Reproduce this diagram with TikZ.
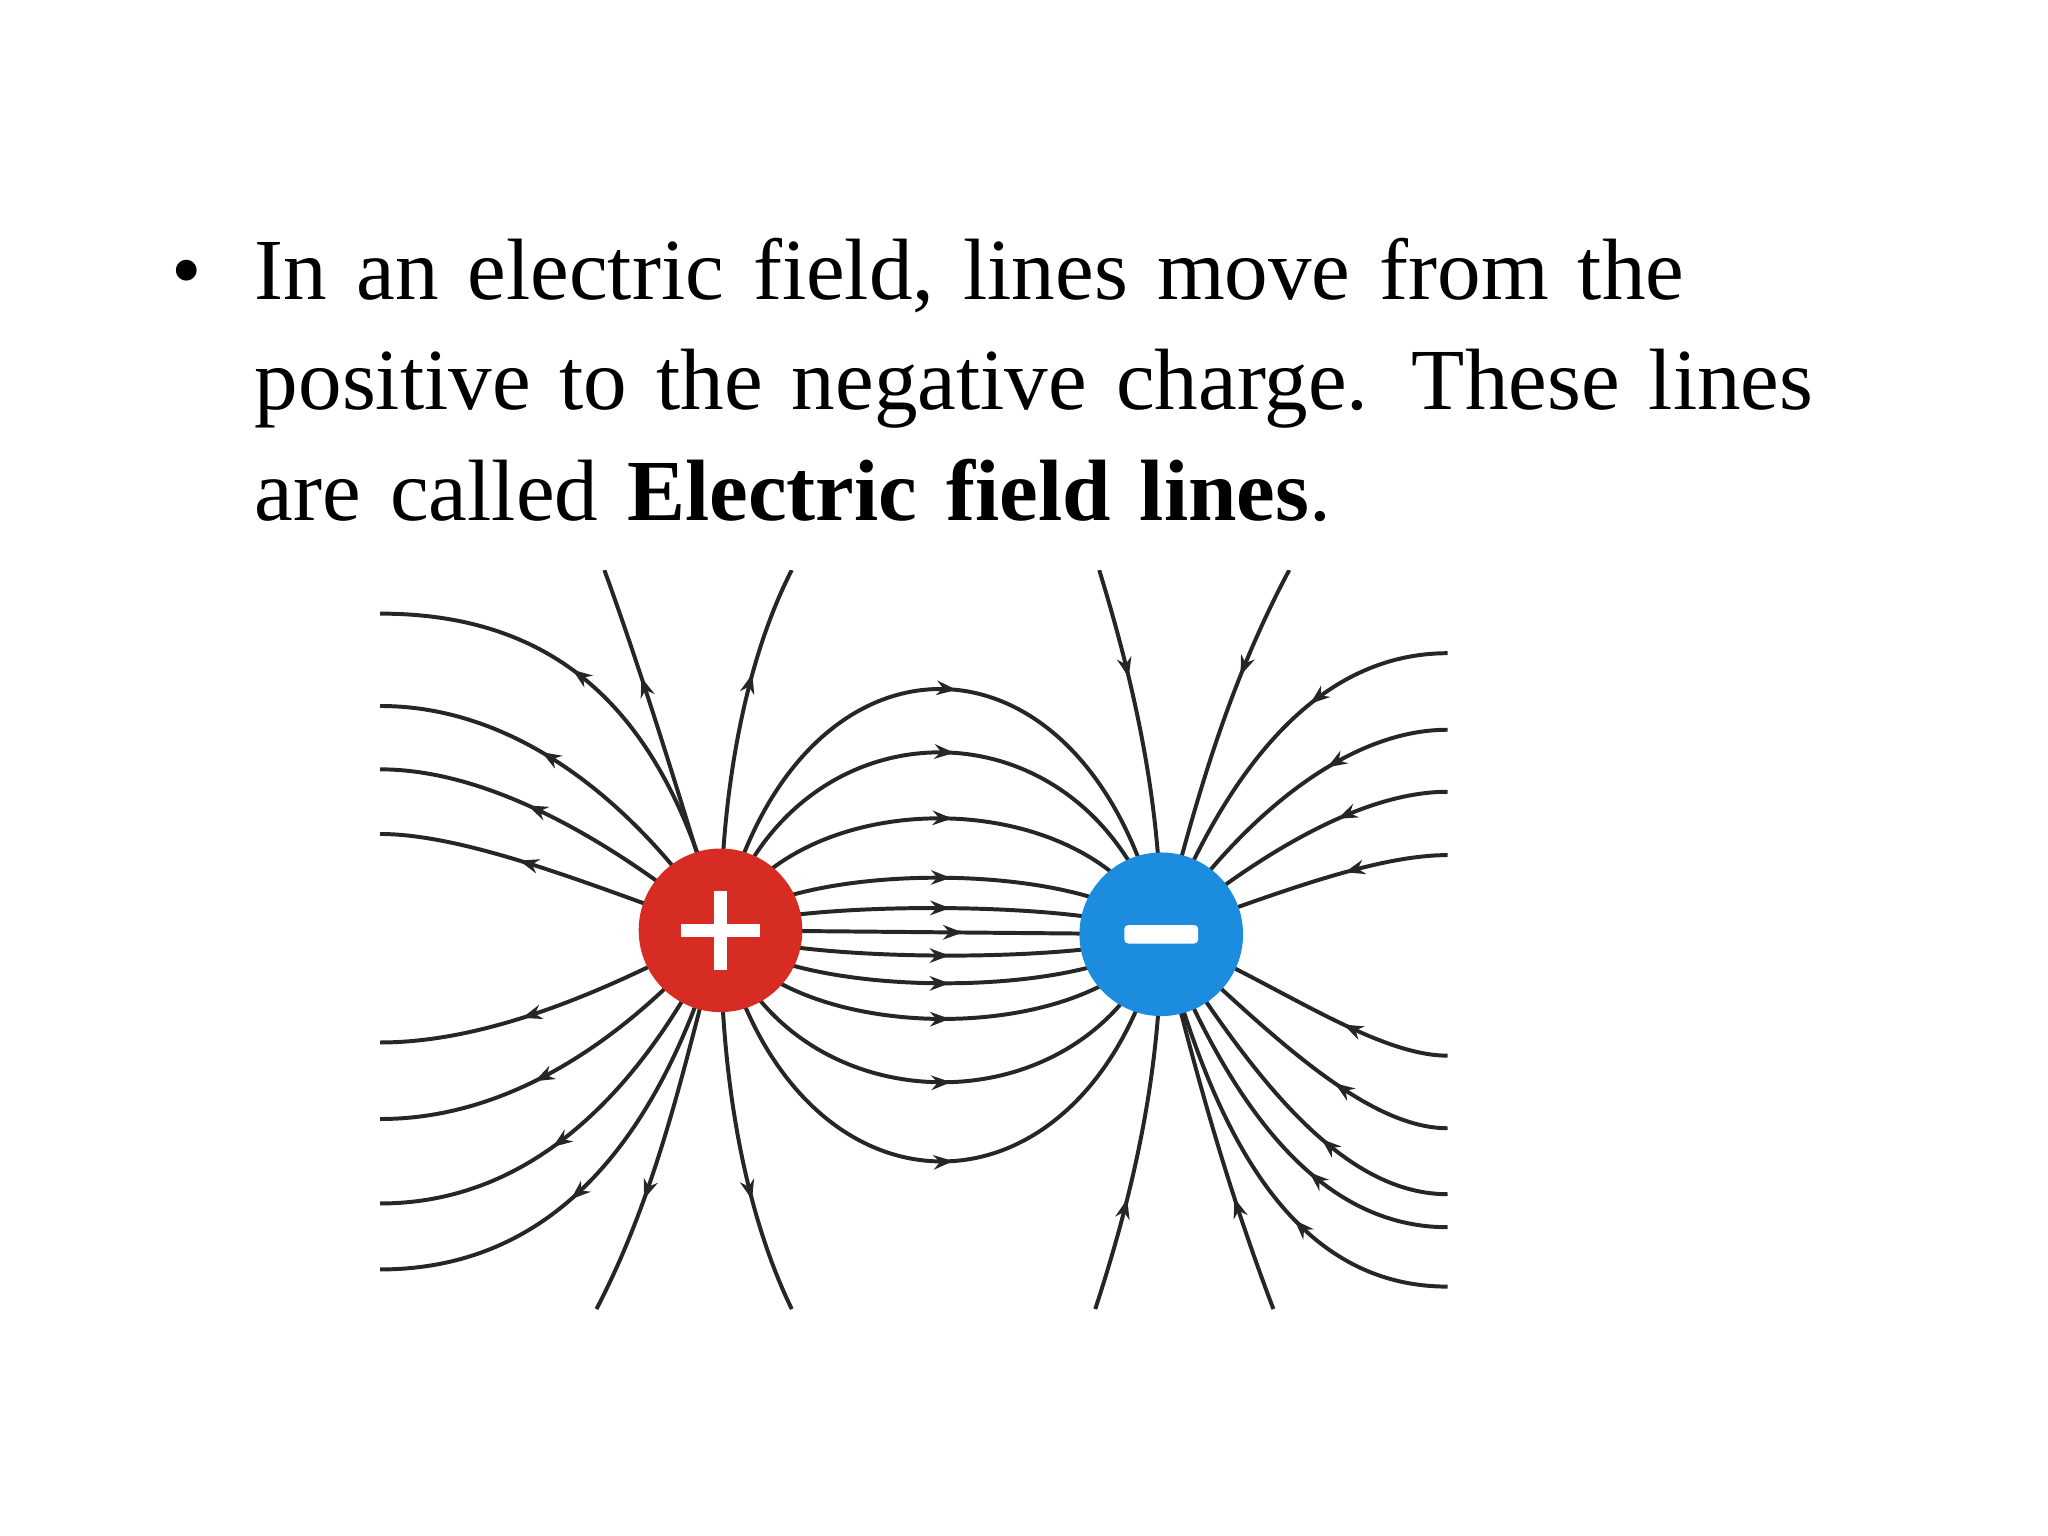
\documentclass[tikz,border=0pt]{standalone}
\usepackage{fontspec}
\setmainfont{Liberation Serif}
\usetikzlibrary{decorations.markings,arrows.meta,calc}
\begin{document}
\begin{tikzpicture}[x=1pt,y=-1pt,
  fl/.style={line width=3pt,black!85,postaction={decorate},decoration={markings,mark=at position #1 with {\arrow{Stealth[length=15pt,width=11pt]}}}},
  fl/.default=0.55,
  chg/.style={circle,minimum size=124pt,inner sep=0pt,draw=none}]
\useasboundingbox (0,0) rectangle (1552,1164);
\node[anchor=north west,text width=1350pt,align=left,font=\fontsize{66}{84}\selectfont,inner sep=0pt] (txt) at (130,180)
 {\makebox[63pt][l]{\textbullet}In an electric field, lines move from the\\\hspace*{63pt}positive to the negative charge. These lines\\\hspace*{63pt}are called \textbf{Electric field lines}.};
\coordinate (P) at (546,705);
\coordinate (M) at (880,708);
\begin{scope}
\clip (288,432) rectangle (1097,992);
\draw[fl] (P) -- (M);
\foreach \a in {522,570,620,665,688,724,745,772,820,880} {
  \pgfmathsetmacro{\c}{(\a-0.25*706)/0.75}
  \draw[fl=0.52] (P) .. controls (600,\c) and (826,\c) .. (M);
}
\foreach \y/\cx/\cy/\k in {465/510/560/440, 535/490/620/400, 583/480/650/380, 632/470/680/360, 790/480/740/380, 848/490/770/400, 912/500/800/420, 962/510/830/440} {
  \draw[fl=0.6] (P) .. controls (\cx,\cy) and (\k,\y) .. (288,\y);
}
\draw[fl=0.7] (P) .. controls (520,620) and (490,520) .. (458,432);
\draw[fl=0.7] (P) .. controls (546,600) and (565,500) .. (600,432);
\draw[fl=0.7] (P) .. controls (520,800) and (500,900) .. (452,992);
\draw[fl=0.7] (P) .. controls (546,820) and (565,920) .. (600,992);
\draw[fl=0.3] (833,432) .. controls (860,520) and (880,610) .. (M);
\draw[fl=0.3] (977,432) .. controls (930,520) and (905,610) .. (M);
\draw[fl=0.3] (830,992) .. controls (860,900) and (880,810) .. (M);
\draw[fl=0.3] (965,992) .. controls (930,900) and (905,810) .. (M);
\foreach \y/\cx/\cy/\k in {495/930/580/1000, 553/940/620/1020, 600/950/650/1030, 648/960/680/1040, 800/960/740/1040, 855/950/770/1030, 905/940/800/1010, 930/925/820/990, 975/915/840/970} {
  \draw[fl=0.35] (1097,\y) .. controls (\k,\y) and (\cx,\cy) .. (M);
}
\end{scope}
\node[chg,fill={rgb,255:red,214;green,44;blue,36}] (plus) at (P) {};
\node[chg,fill={rgb,255:red,28;green,140;blue,222}] (minus) at (M) {};
\fill[white] ($(P)+(-30,-5)$) rectangle ($(P)+(30,5)$);
\fill[white] ($(P)+(-5,-30)$) rectangle ($(P)+(5,30)$);
\fill[white,rounded corners=3pt] ($(M)+(-28,-7)$) rectangle ($(M)+(28,7)$);
\end{tikzpicture}
\end{document}
